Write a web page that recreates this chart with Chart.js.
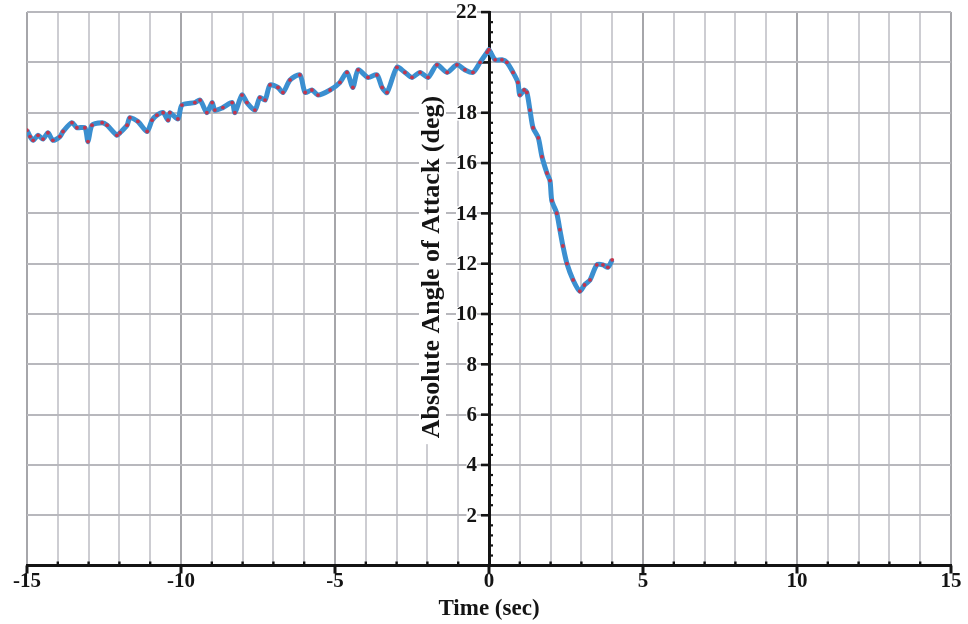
<html>
<head>
  <meta charset="utf-8" />
  <style>
    html, body {
      margin: 0;
      padding: 0;
      background: #fff;
    }
    .chart-wrapper {
      width: 968px;
      height: 624px;
    }
  </style>
</head>
<body>
  <script src="https://cdn.jsdelivr.net/npm/chart.js@4.4.0/dist/chart.umd.min.js"></script>
  <div class="chart-wrapper">
    <canvas id="aoaChart" width="968" height="624"></canvas>
  </div>
  <script>
    // chart data
    const timeSec = [
      -15.0, -14.9, -14.8, -14.64, -14.48, -14.32, -14.16, -13.93, -13.83, -13.54,
      -13.38, -13.12, -13.02, -12.89, -12.56, -12.4, -12.08, -11.98, -11.75, -11.66,
      -11.4, -11.1, -10.94, -10.78, -10.58, -10.42, -10.36, -10.1, -9.97, -9.55,
      -9.38, -9.16, -8.99, -8.9, -8.64, -8.34, -8.25, -8.02, -7.86, -7.6,
      -7.44, -7.27, -7.11, -6.85, -6.69, -6.46, -6.14, -5.97, -5.75, -5.55,
      -5.16, -4.84, -4.61, -4.42, -4.25, -3.93, -3.64, -3.47, -3.31, -2.99,
      -2.73, -2.5, -2.24, -1.98, -1.69, -1.36, -1.04, -0.78, -0.52, -0.29,
      -0.06, 0.0, 0.2, 0.42, 0.58, 0.78, 0.94, 1.0, 1.14, 1.23,
      1.33, 1.43, 1.6, 1.72, 1.88, 1.98, 2.04, 2.2, 2.3, 2.4,
      2.53, 2.73, 2.95, 3.1, 3.28, 3.5, 3.7, 3.86, 4.0,
    ];

    const angleDeg = [
      17.3, 17.05, 16.9, 17.1, 16.95, 17.2, 16.9, 17.05, 17.25, 17.6,
      17.4, 17.4, 16.85, 17.5, 17.6, 17.5, 17.1, 17.2, 17.5, 17.8,
      17.65, 17.25, 17.7, 17.9, 18.0, 17.7, 18.0, 17.75, 18.3, 18.4,
      18.5, 18.0, 18.4, 18.1, 18.2, 18.4, 18.0, 18.7, 18.4, 18.1,
      18.6, 18.5, 19.1, 19.0, 18.8, 19.3, 19.5, 18.8, 18.9, 18.7,
      18.9, 19.2, 19.6, 19.0, 19.7, 19.4, 19.5, 19.0, 18.8, 19.8,
      19.6, 19.4, 19.6, 19.4, 19.9, 19.6, 19.9, 19.7, 19.6, 20.0,
      20.4, 20.5, 20.1, 20.1, 20.0, 19.6, 19.2, 18.7, 18.9, 18.8,
      18.1, 17.4, 17.0, 16.25, 15.6, 15.3, 14.5, 14.0, 13.35, 12.7,
      12.0, 11.35, 10.9, 11.15, 11.35, 11.95, 11.95, 11.85, 12.15,
    ];

    const xTickLabels = [-15, -10, -5, 0, 5, 10, 15];
    const yTickLabels = [2, 4, 6, 8, 10, 12, 14, 16, 18, 22];

    const xTitle = "Time (sec)";
    const yTitle = "Absolute Angle of Attack (deg)";

    // look
    const serifFont = "'Liberation Serif', 'Times New Roman', serif";
    const inkColor = "#141414";
    const lineColor = "#3b8fd0";
    const dotColor = "#c4354c";

    // ticks and labels of the centred y axis, x ticks, rotated y title
    const axisDecor = {
      id: "axisDecor",
      beforeDatasetsDraw(chart) {
        const { ctx, scales } = chart;
        const xs = scales.x;
        const ys = scales.y;
        const x0 = xs.getPixelForValue(0);
        const y0 = ys.getPixelForValue(0);

        ctx.save();
        ctx.fillStyle = inkColor;

        // y minor ticks every 0.4
        for (let i = 1; i < 55; i++) {
          if (i % 5 === 0) continue;
          const py = ys.getPixelForValue(i * 0.4);
          ctx.fillRect(x0, py - 1, 4, 2.2);
        }
        // y major ticks
        for (let v = 2; v <= 22; v += 2) {
          const py = ys.getPixelForValue(v);
          ctx.fillRect(x0 - 8, py - 1.2, 9, 2.6);
        }
        // x minor ticks
        for (let t = -14; t <= 14; t++) {
          if (t % 5 === 0) continue;
          const px = xs.getPixelForValue(t);
          ctx.fillRect(px - 1.2, y0 - 4, 2.4, 4);
        }
        // x major ticks
        for (let t = -15; t <= 15; t += 5) {
          const px = xs.getPixelForValue(t);
          ctx.fillRect(px - 1.5, y0, 3, 8);
        }

        // y tick labels, left of the axis
        ctx.font = "bold 21px " + serifFont;
        ctx.textAlign = "right";
        ctx.textBaseline = "middle";
        yTickLabels.forEach((v) => {
          const py = ys.getPixelForValue(v);
          const txt = String(v);
          const w = ctx.measureText(txt).width;
          const lx = x0 - 12;
          ctx.fillStyle = "#fff";
          ctx.fillRect(lx - w, py - 7, w, 15);
          ctx.fillStyle = inkColor;
          ctx.fillText(txt, lx, py + 1);
        });

        // y title
        const tx = x0 - 57;
        const ty = 267;
        ctx.font = "bold 26px " + serifFont;
        const w = ctx.measureText(yTitle).width;
        ctx.fillStyle = "#fff";
        ctx.fillRect(tx - 13, ty - w / 2 - 6, 27, w + 12);
        ctx.translate(tx, ty);
        ctx.rotate(-Math.PI / 2);
        ctx.fillStyle = inkColor;
        ctx.textAlign = "center";
        ctx.textBaseline = "middle";
        ctx.fillText(yTitle, 0, 0);
        ctx.restore();
      },
    };

    const ctx = document.getElementById("aoaChart").getContext("2d");

    new Chart(ctx, {
      type: "line",
      data: {
        datasets: [
          {
            data: timeSec.map((t, i) => ({ x: t, y: angleDeg[i] })),
            borderColor: lineColor,
            borderWidth: 5,
            tension: 0.25,
            pointRadius: 1.9,
            pointBorderWidth: 0,
            pointBackgroundColor: dotColor,
            fill: false,
          },
        ],
      },
      options: {
        responsive: false,
        animation: false,
        devicePixelRatio: 1,
        layout: {
          padding: { left: 27, right: 17, top: 12, bottom: 2 },
        },
        plugins: {
          legend: { display: false },
          tooltip: { enabled: false },
        },
        scales: {
          x: {
            type: "linear",
            position: "bottom",
            min: -15,
            max: 15,
            ticks: {
              stepSize: 1,
              autoSkip: false,
              maxRotation: 0,
              padding: 3,
              color: inkColor,
              font: { family: serifFont, weight: "bold", size: 21, lineHeight: 1.2 },
              callback: (v) => (xTickLabels.includes(v) ? String(v) : ""),
            },
            grid: {
              z: -1,
              drawTicks: false,
              lineWidth: 2,
              color: (c) => (c.tick && c.tick.value % 5 === 0 ? "#a6a6aa" : "#cdcdd2"),
            },
            border: { color: inkColor, width: 3 },
            title: {
              display: true,
              text: xTitle,
              color: inkColor,
              font: { family: serifFont, weight: "bold", size: 23, lineHeight: 1.1 },
              padding: { top: 0, bottom: 0 },
            },
          },
          y: {
            type: "linear",
            position: { x: 0 },
            min: 0,
            max: 22,
            ticks: {
              stepSize: 2,
              display: false,
            },
            grid: {
              z: -1,
              drawTicks: false,
              lineWidth: 2,
              color: "#b8b8bd",
            },
            border: { color: inkColor, width: 3 },
          },
        },
      },
      plugins: [axisDecor],
    });
  </script>
</body>
</html>
